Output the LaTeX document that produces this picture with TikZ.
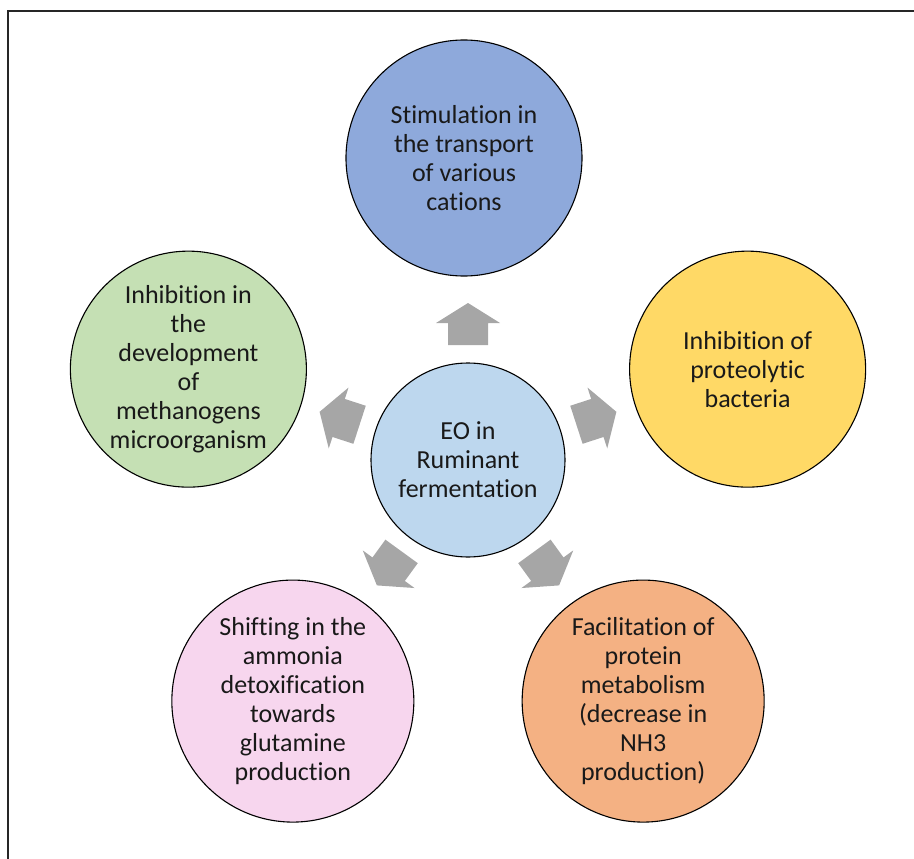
\documentclass[tikz,border=0pt]{standalone}
\usepackage{fontspec}
\setmainfont[Ligatures={NoCommon,NoContextual}]{Carlito}
\usetikzlibrary{calc}
\definecolor{cblue}{HTML}{8EA9DB}
\definecolor{ccenter}{HTML}{BDD7EE}
\definecolor{cgreen}{HTML}{C5E0B4}
\definecolor{cyellow}{HTML}{FFD966}
\definecolor{cpink}{HTML}{F7D6EE}
\definecolor{corange}{HTML}{F4B183}
\definecolor{cgray}{HTML}{A6A6A6}
\tikzset{
  bubble/.style={circle, draw=black, line width=1.1pt, minimum size=236pt, inner sep=0pt,
    align=center, font=\fontsize{26}{29}\selectfont, text=black!90},
  hub/.style={bubble, minimum size=194pt},
  blockarrow/.pic={\fill[cgray] (-21,-20) -- (1,-20) -- (1,-32) -- (21,0) -- (1,32) -- (1,20) -- (-21,20) -- cycle;}
}
\begin{document}
\begin{tikzpicture}[x=1pt,y=1pt]
\useasboundingbox (0,0) rectangle (914,-859);
\draw[black!85, line width=1.4pt] (8,-860) -- (8,-11) -- (916,-11);
\node[hub, fill=ccenter] (c) at (468,-460) {EO in\\Ruminant\\fermentation};
\node[bubble, fill=cblue] (top) at ($(c.center)+(-4,0)+(90:302)$) {Stimulation in\\the transport\\of various\\cations};
\node[bubble, fill=cgreen] (left) at ($(c.center)+(162:294)$) {Inhibition in\\the\\development\\of\\methanogens\\microorganism};
\node[bubble, fill=cyellow] (right) at ($(c.center)+(18:294)$) {Inhibition of\\proteolytic\\bacteria};
\node[bubble, fill=cpink, minimum size=242pt] (bl) at ($(c.center)+(234:298)$) {Shifting in the\\ammonia\\detoxification\\towards\\glutamine\\production};
\node[bubble, fill=corange, minimum size=242pt] (br) at ($(c.center)+(306:298)$) {Facilitation of\\protein\\metabolism\\(decrease in\\NH3\\production)};
\pic[rotate=90] at ($(c.center)+(90:136)$) {blockarrow};
\pic[rotate=162] at ($(c.center)+(162:135)$) {blockarrow};
\pic[rotate=18] at ($(c.center)+(18:135)$) {blockarrow};
\pic[rotate=234] at ($(c.center)+(234:134)$) {blockarrow};
\pic[rotate=306] at ($(c.center)+(306:134)$) {blockarrow};
\end{tikzpicture}
\end{document}
